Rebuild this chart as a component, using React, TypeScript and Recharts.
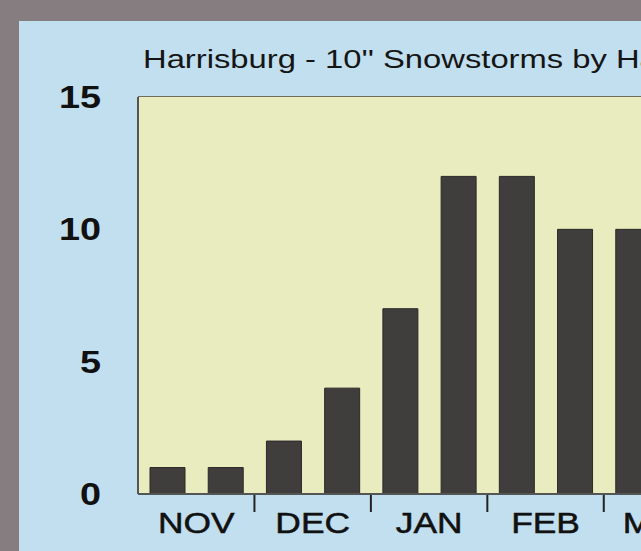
import React from 'react';
import { BarChart, Bar, XAxis, YAxis, CartesianGrid } from 'recharts';

// half-month periods, two per month
const periods = ['NOV-1', 'NOV-2', 'DEC-1', 'DEC-2', 'JAN-1', 'JAN-2', 'FEB-1', 'FEB-2', 'MAR-1'];
const monthLabels = ['NOV', 'DEC', 'JAN', 'FEB', 'MAR'];
const storms = [1, 1, 2, 4, 7, 12, 12, 10, 10];
const yTicks = [0, 5, 10, 15];

const data = periods.map((p, i) => ({ period: p, storms: storms[i] }));

const CHART_W = 700;
const CHART_H = 551;
const PLOT_LEFT = 138;
const PLOT_RIGHT = 662;
const BAND = (PLOT_RIGHT - PLOT_LEFT) / periods.length;

const STRETCH = 1.22;

const YTick = (props: any) => {
  const { y, payload } = props;
  return (
    <g transform={`translate(101,${y}) scale(${STRETCH},1)`}>
      <text x={0} y={0} dy="0.36em" textAnchor="end" fontSize={31} fontWeight="bold" fill="#111"
        fontFamily="'Liberation Sans', Arial, sans-serif">
        {payload.value}
      </text>
    </g>
  );
};

const XTick = (props: any) => {
  const { x, index } = props;
  const edge = x + BAND / 2;
  if (index % 2 === 1) {
    return <line x1={edge} x2={edge} y1={495} y2={512} stroke="#222" strokeWidth={2} />;
  }
  return (
    <g transform={`translate(${edge},523) scale(${STRETCH},1)`}>
      <text x={0} y={0} dy="0.36em" textAnchor="middle" fontSize={29} fill="#111"
        stroke="#111" strokeWidth={0.5}
        fontFamily="'Liberation Sans', Arial, sans-serif">
        {monthLabels[index / 2]}
      </text>
    </g>
  );
};

export default function App() {
  return (
    <div style={{
      position: 'fixed', left: 0, top: 0, width: 641, height: 551, overflow: 'hidden',
      background: '#857d80',
    }}>
      <div style={{ position: 'absolute', left: 19, top: 21, width: 700, height: 600, background: '#c1dfef' }} />
      <div style={{
        position: 'absolute', left: 143, top: 47, fontSize: 25, lineHeight: '25px', whiteSpace: 'nowrap',
        color: '#151515', fontFamily: "'Liberation Sans', Arial, sans-serif",
        transform: 'scaleX(1.31)', transformOrigin: 'left top',
      }}>
        Harrisburg - 10'' Snowstorms by Half-Month
      </div>
      <div style={{ position: 'absolute', left: 0, top: 0 }}>
        <BarChart width={CHART_W} height={CHART_H} data={data}
          margin={{ top: 97, right: CHART_W - PLOT_RIGHT, left: 0, bottom: 0 }}
          barSize={35}>
          <rect x={PLOT_LEFT} y={97} width={PLOT_RIGHT - PLOT_LEFT} height={397} fill="#e9ecbf" />
          <CartesianGrid horizontal vertical={false} stroke="#6c6c62" strokeWidth={2} />
          <XAxis dataKey="period" height={57} tick={<XTick />} tickLine={false} interval={0}
            axisLine={{ stroke: '#555', strokeWidth: 2 }} />
          <YAxis width={PLOT_LEFT} domain={[0, 15]} ticks={yTicks} tick={<YTick />} tickLine={false}
            axisLine={{ stroke: '#555', strokeWidth: 2 }} />
          <Bar dataKey="storms" fill="#403e3d" stroke="#2a2928" strokeWidth={1} isAnimationActive={false} />
        </BarChart>
      </div>
    </div>
  );
}
